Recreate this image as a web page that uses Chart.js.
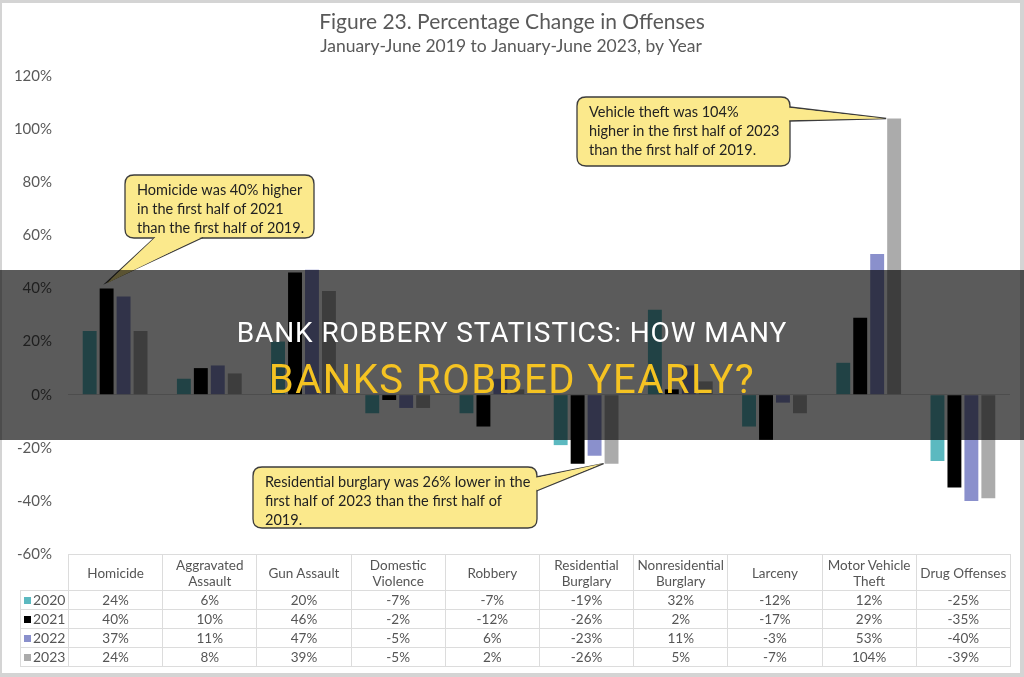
<!DOCTYPE html>
<html>
<head>
<meta charset="utf-8">
<script src="https://cdn.jsdelivr.net/npm/chart.js@4.4.0/dist/chart.umd.min.js"></script>
<style>
  body { margin: 0; background: #d4d4d4; font-family: Lato, "Open Sans", sans-serif; }
  #page { position: relative; width: 1024px; height: 677px; overflow: hidden; }
  #paper { position: absolute; left: 2px; top: 3px; width: 1018px; height: 670px; background: #fff; }
  #wrap { position: absolute; left: 0; top: 0; width: 1024px; height: 677px; }
  #dataTable { position: absolute; left: 20px; top: 554px; border-collapse: collapse; table-layout: fixed; width: 990px; color: #555; font-size: 13.5px; }
  #dataTable td, #dataTable th { border: 1px solid #dcdcdc; text-align: center; padding: 0 2px; font-weight: normal; }
  #dataTable th { height: 35px; line-height: 16px; }
  #dataTable td { height: 18px; line-height: 16px; }
  #dataTable th.corner { border-top: none; border-left: none; }
  #dataTable td.year { text-align: left; padding-left: 3px; font-size: 14px; }
  .sw { display: inline-block; width: 7px; height: 7px; margin-right: 2px; vertical-align: 1px; }
  #banner { position: absolute; left: 0; top: 270px; width: 1024px; height: 170px; background: rgba(0,0,0,0.645); text-align: center; font-family: Roboto, sans-serif; }
  #banner .l1 { position: absolute; left: 0; width: 100%; top: 46px; font-size: 28px; letter-spacing: 0.9px; color: #fff; }
  #banner .l2 { position: absolute; left: 0; width: 100%; top: 86px; font-size: 40px; letter-spacing: 1.5px; color: #f5c322; }
</style>
</head>
<body>
<div id="page">
  <div id="paper"></div>
  <div id="wrap"><canvas id="barChart"></canvas></div>
  <table id="dataTable"></table>
  <div id="banner">
    <div class="l1">BANK ROBBERY STATISTICS: HOW MANY</div>
    <div class="l2">BANKS ROBBED YEARLY?</div>
  </div>
</div>
<script>
var categories = ["Homicide", "Aggravated Assault", "Gun Assault", "Domestic Violence", "Robbery",
  "Residential Burglary", "Nonresidential Burglary", "Larceny", "Motor Vehicle Theft", "Drug Offenses"];
var years = ["2020", "2021", "2022", "2023"];
var values2020 = [24, 6, 20, -7, -7, -19, 32, -12, 12, -25];
var values2021 = [40, 10, 46, -2, -12, -26, 2, -17, 29, -35];
var values2022 = [37, 11, 47, -5, 6, -23, 11, -3, 53, -40];
var values2023 = [24, 8, 39, -5, 2, -26, 5, -7, 104, -39];
var yearColors = ["#5cb9c0", "#000000", "#8a90cc", "#ababab"];
var yTicks = [-60, -40, -20, 0, 20, 40, 60, 80, 100, 120];

var series = [values2020, values2021, values2022, values2023];

// callouts: text, which bar they point at, box placement
var callouts = [
  { lines: ["Homicide was 40% higher", "in the first half of 2021", "than the first half of 2019."],
    ds: 1, idx: 0, box: [125, 175, 189, 63], side: "bottom" },
  { lines: ["Vehicle theft was 104%", "higher in the first half of 2023", "than the first half of 2019."],
    ds: 3, idx: 8, box: [577, 97, 213, 69], side: "right" },
  { lines: ["Residential burglary was 26% lower in the", "first half of 2023 than the first half of", "2019."],
    ds: 3, idx: 5, box: [253, 467, 284, 61], side: "right" }
];

// build the data table under the plot
var table = document.getElementById("dataTable");
var html = '<colgroup><col style="width:48px">';
categories.forEach(function () { html += '<col style="width:94.2px">'; });
html += '</colgroup><tr><th class="corner"></th>';
categories.forEach(function (c) { html += '<th>' + c + '</th>'; });
html += '</tr>';
years.forEach(function (y, i) {
  html += '<tr><td class="year"><span class="sw" style="background:' + yearColors[i] + '"></span>' + y + '</td>';
  series[i].forEach(function (v) { html += '<td>' + v + '%</td>'; });
  html += '</tr>';
});
table.innerHTML = html;

function roundRect(ctx, x, y, w, h, r) {
  ctx.beginPath();
  ctx.moveTo(x + r, y);
  ctx.lineTo(x + w - r, y);
  ctx.quadraticCurveTo(x + w, y, x + w, y + r);
  ctx.lineTo(x + w, y + h - r);
  ctx.quadraticCurveTo(x + w, y + h, x + w - r, y + h);
  ctx.lineTo(x + r, y + h);
  ctx.quadraticCurveTo(x, y + h, x, y + h - r);
  ctx.lineTo(x, y + r);
  ctx.quadraticCurveTo(x, y, x + r, y);
  ctx.closePath();
}

var calloutPlugin = {
  id: "callouts",
  afterDatasetsDraw: function (chart) {
    var ctx = chart.ctx;
    callouts.forEach(function (c) {
      var bar = chart.getDatasetMeta(c.ds).data[c.idx];
      var bx = c.box[0], by = c.box[1], bw = c.box[2], bh = c.box[3];
      var tip;
      if (c.side === "bottom") {
        tip = { x: bar.x, y: bar.y - 6 };
      } else {
        tip = { x: bar.x - bar.width / 2 - 1, y: bar.y };
      }
      ctx.save();
      ctx.fillStyle = "#fbe98c";
      ctx.strokeStyle = "#3c3c3c";
      ctx.lineWidth = 1.3;
      roundRect(ctx, bx, by, bw, bh, 9);
      ctx.fill();
      ctx.stroke();
      // pointer wedge
      ctx.beginPath();
      if (c.side === "bottom") {
        ctx.moveTo(bx + 30, by + bh - 0.5);
        ctx.lineTo(tip.x, tip.y);
        ctx.lineTo(bx + 78, by + bh - 0.5);
      } else {
        ctx.moveTo(bx + bw - 0.5, by + 10);
        ctx.lineTo(tip.x, tip.y);
        ctx.lineTo(bx + bw - 0.5, by + 24);
      }
      ctx.fill();
      ctx.stroke();
      // cover the box edge under the wedge base
      ctx.beginPath();
      if (c.side === "bottom") {
        ctx.moveTo(bx + 31, by + bh - 1.5);
        ctx.lineTo(tip.x, tip.y + 1);
        ctx.lineTo(bx + 77, by + bh - 1.5);
      } else {
        ctx.moveTo(bx + bw - 1.5, by + 11);
        ctx.lineTo(tip.x - 2, tip.y);
        ctx.lineTo(bx + bw - 1.5, by + 23);
      }
      ctx.closePath();
      ctx.fill();
      ctx.fillStyle = "#222";
      ctx.font = "14.5px Lato";
      ctx.textBaseline = "middle";
      c.lines.forEach(function (t, i) {
        ctx.fillText(t, bx + 12, by + 15 + i * 19);
      });
      ctx.restore();
    });
  }
};

var ctxB = document.getElementById("barChart").getContext("2d");
var myBarChart = new Chart(ctxB, {
  type: "bar",
  data: {
    labels: categories,
    datasets: years.map(function (y, i) {
      return {
        label: y,
        data: series[i],
        backgroundColor: yearColors[i],
        borderWidth: 0,
        categoryPercentage: 0.72,
        barPercentage: 0.82
      };
    })
  },
  options: {
    responsive: true,
    maintainAspectRatio: false,
    animation: false,
    layout: { padding: { top: 76, bottom: 123, left: 0, right: 14 } },
    plugins: {
      legend: { display: false },
      tooltip: { enabled: false },
      title: { display: false }
    },
    scales: {
      x: { display: false },
      y: {
        min: -60,
        max: 120,
        afterBuildTicks: function (scale) {
          scale.ticks = yTicks.map(function (v) { return { value: v }; });
        },
        afterFit: function (scale) { scale.width = 68; },
        border: { display: false },
        grid: {
          drawTicks: false,
          color: function (c) { return c.tick && c.tick.value === 0 ? "#d9d9d9" : "rgba(0,0,0,0)"; }
        },
        ticks: {
          padding: 16,
          color: "#595959",
          font: { family: "Lato", size: 15 },
          callback: function (v) { return v + "%"; }
        }
      }
    }
  },
  plugins: [calloutPlugin, {
    id: "titles",
    afterDraw: function (chart) {
      var ctx = chart.ctx;
      ctx.save();
      ctx.fillStyle = "#595959";
      ctx.textAlign = "center";
      ctx.textBaseline = "middle";
      ctx.font = "21px Lato";
      ctx.fillText("Figure 23. Percentage Change in Offenses", 512, 22);
      ctx.font = "17.5px Lato";
      ctx.fillText("January-June 2019 to January-June 2023, by Year", 511, 46);
      ctx.restore();
    }
  }]
});
</script>
</body>
</html>
